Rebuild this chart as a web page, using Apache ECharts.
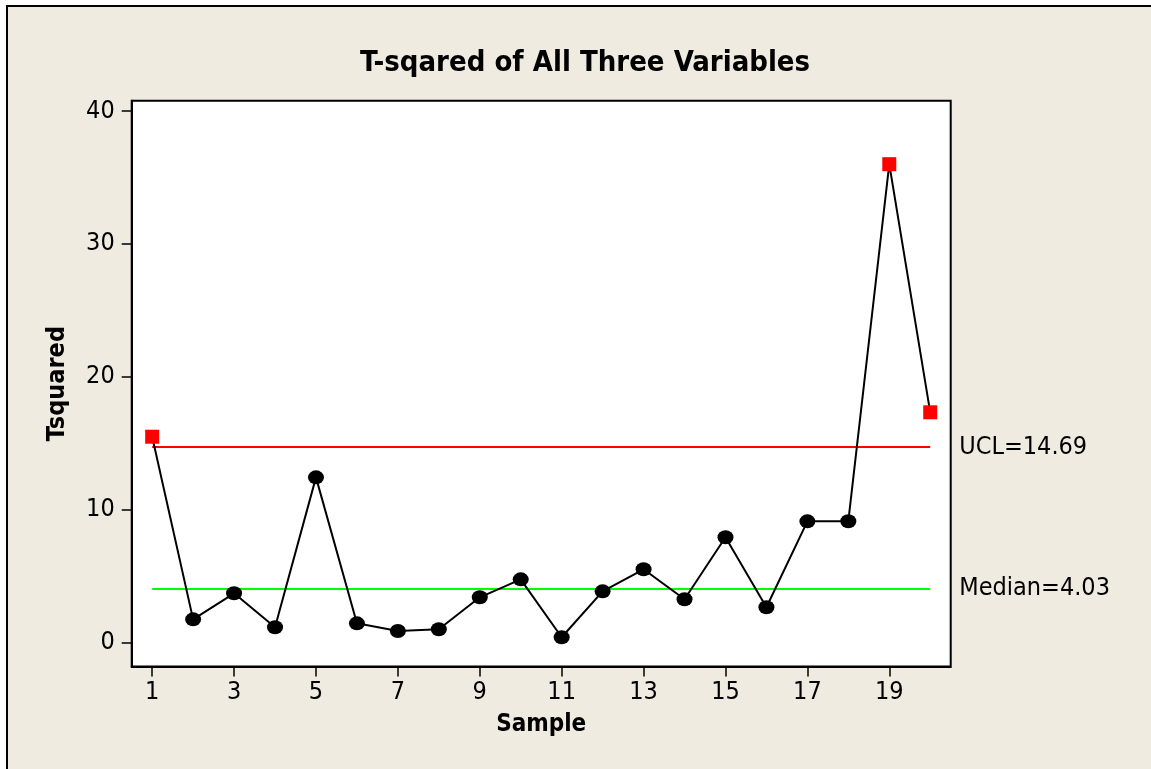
<!DOCTYPE html>
<html>
<head>
<meta charset="utf-8">
<script src="https://cdn.jsdelivr.net/npm/echarts@6/dist/echarts.min.js"></script>
<style>
html,body{margin:0;padding:0;background:#ffffff;}
#chart{width:1151px;height:769px;}
</style>
</head>
<body>
<div id="chart"></div>
<script>
// ---- data ----
var samples = [1,2,3,4,5,6,7,8,9,10,11,12,13,14,15,16,17,18,19,20];
var tsquared = [15.48,1.73,3.69,1.13,12.42,1.43,0.85,0.98,3.39,4.74,0.38,3.84,5.50,3.24,7.91,2.64,9.11,9.12,36.0,17.32];
var ucl = 14.69;
var median = 4.03;
var xTicks = [1,3,5,7,9,11,13,15,17,19];
var yTicks = [0,10,20,30,40];
var titleText = 'T-sqared of All Three Variables';
var xName = 'Sample';
var yName = 'Tsquared';

var FONT = '"DejaVu Sans Condensed", "DejaVu Sans", sans-serif';

var pts = samples.map(function (s, i) {
  var v = tsquared[i];
  var out = v > ucl;
  return {
    value: [s, v],
    symbol: out ? 'rect' : 'circle',
    symbolSize: out ? 14 : [16, 14],
    itemStyle: { color: out ? '#ff0000' : '#000000' }
  };
});

var chart = echarts.init(document.getElementById('chart'), null, { renderer: 'canvas' });
chart.setOption({
  backgroundColor: '#ffffff',
  animation: false,
  graphic: [{
    type: 'rect', z: -10, silent: true,
    shape: { x: 7, y: 6, width: 1300, height: 900 },
    style: { fill: '#efebe1', stroke: '#000000', lineWidth: 2 }
  }],
  title: {
    text: titleText,
    left: 580, top: 44, textAlign: 'center',
    textStyle: { fontFamily: FONT, fontWeight: 'bold', fontSize: 29, color: '#000000' }
  },
  grid: {
    left: 131.7, right: 200.3, top: 100.7, bottom: 102.5,
    show: true, backgroundColor: '#ffffff', borderColor: '#000000', borderWidth: 2,
    containLabel: false
  },
  xAxis: {
    type: 'value', min: 0.5, max: 20.5,
    name: xName, nameLocation: 'middle', nameGap: 46,
    nameTextStyle: { fontFamily: FONT, fontWeight: 'bold', fontSize: 24, color: '#000000' },
    axisLine: { show: true, onZero: false, lineStyle: { color: '#000000', width: 2 } },
    axisTick: { show: true, length: 10, customValues: xTicks, lineStyle: { color: '#000000', width: 1.5 } },
    axisLabel: { customValues: xTicks, margin: 13, fontFamily: FONT, fontSize: 25, color: '#000000' },
    splitLine: { show: false }
  },
  yAxis: {
    type: 'value', min: -1.82, max: 40.78,
    name: yName, nameLocation: 'middle', nameGap: 62, nameRotate: 90,
    nameTextStyle: { fontFamily: FONT, fontWeight: 'bold', fontSize: 25, color: '#000000' },
    axisLine: { show: true, onZero: false, lineStyle: { color: '#000000', width: 2 } },
    axisTick: { show: true, length: 10, customValues: yTicks, lineStyle: { color: '#000000', width: 1.5 } },
    axisLabel: { customValues: yTicks, margin: 17, fontFamily: FONT, fontSize: 25, color: '#000000' },
    splitLine: { show: false }
  },
  series: [
    {
      type: 'line', name: 'limits', data: [], silent: true,
      markLine: {
        silent: true, symbol: 'none', animation: false,
        data: [
          [{ coord: [samples[0], ucl], lineStyle: { color: '#ff0000', width: 2, type: 'solid' },
             label: { formatter: 'UCL=' + ucl.toFixed(2) } },
           { coord: [samples[samples.length - 1], ucl] }],
          [{ coord: [samples[0], median], lineStyle: { color: '#00ff00', width: 2, type: 'solid' },
             label: { formatter: 'Median=' + median.toFixed(2) } },
           { coord: [samples[samples.length - 1], median] }]
        ],
        label: { show: true, position: 'end', distance: 29, fontFamily: FONT, fontSize: 25, color: '#000000' }
      }
    },
    {
      type: 'line', name: 'T2', data: pts, z: 5,
      lineStyle: { color: '#000000', width: 2 },
      showAllSymbol: true
    }
  ]
});
</script>
</body>
</html>
